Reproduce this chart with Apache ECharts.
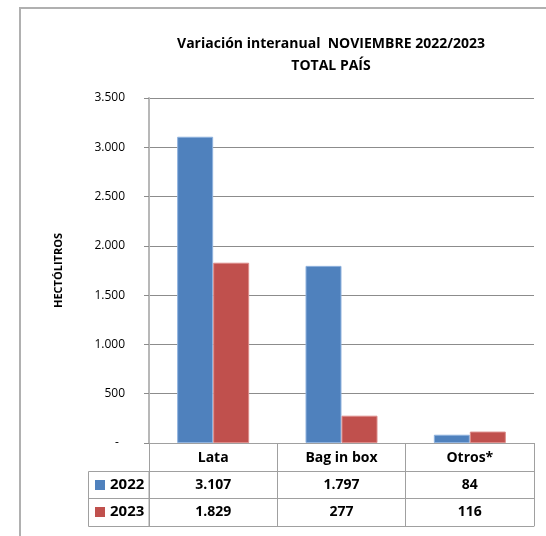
<!DOCTYPE html>
<html>
<head>
<meta charset="utf-8">
<script src="https://cdn.jsdelivr.net/npm/echarts@6/dist/echarts.min.js"></script>
<style>
    html, body { margin: 0; padding: 0; background: #fff; }
    #chart { width: 546px; height: 536px; }
</style>
</head>
<body>
<div id="chart"></div>
<script>
// datos
const categories = ['Lata', 'Bag in box', 'Otros*'];
const years = ['2022', '2023'];
const values2022 = [3107, 1797, 84];
const values2023 = [1829, 277, 116];
const yMax = 3500;
const yStep = 500;

const lineGray = '#a0a0a0';
const gridGray = '#8c8c8c';
const font = 'Open Sans';

// miles con punto: 3107 -> 3.107
function fmt(n) {
    return String(n).replace(/\B(?=(\d{3})+(?!\d))/g, '.');
}

const chart = echarts.init(document.getElementById('chart'));

const rowLabel = {
    fontFamily: font,
    fontWeight: 'bold',
    fontSize: 14,
    lineHeight: 16,
    color: '#000'
};

const options = {
    animation: false,
    backgroundColor: '#fff',
    textStyle: { fontFamily: font },
    title: {
        text: 'Variación interanual  NOVIEMBRE 2022/2023\nTOTAL PAÍS',
        left: 326,
        top: 28,
        textAlign: 'center',
        textStyle: {
            fontFamily: font,
            fontWeight: 'bold',
            fontSize: 14,
            lineHeight: 22,
            color: '#000'
        }
    },
    legend: {
        data: years,
        orient: 'vertical',
        left: 95,
        top: 477,
        padding: 0,
        itemWidth: 10,
        itemHeight: 10,
        itemGap: 11,
        icon: 'rect',
        itemStyle: { borderWidth: 0 },
        textStyle: Object.assign({}, rowLabel, { fontSize: 15 })
    },
    grid: {
        left: 149,
        right: 12,
        top: 98,
        bottom: 93
    },
    xAxis: [
        {
            type: 'category',
            position: 'bottom',
            data: categories,
            axisLine: { lineStyle: { color: lineGray, width: 1 } },
            axisTick: { show: true, length: 83, lineStyle: { color: lineGray } },
            axisLabel: Object.assign({ margin: 7 }, rowLabel)
        },
        {
            type: 'category',
            position: 'bottom',
            data: categories,
            offset: 28,
            axisLine: { lineStyle: { color: lineGray } },
            axisTick: { show: false },
            axisLabel: Object.assign({
                margin: 6,
                formatter: (v, i) => fmt(values2022[i])
            }, rowLabel)
        },
        {
            type: 'category',
            position: 'bottom',
            data: categories,
            offset: 55,
            axisLine: { lineStyle: { color: lineGray } },
            axisTick: { show: false },
            axisLabel: Object.assign({
                margin: 6,
                formatter: (v, i) => fmt(values2023[i])
            }, rowLabel)
        },
        {
            type: 'category',
            position: 'bottom',
            data: categories,
            offset: 83,
            axisLine: { lineStyle: { color: lineGray } },
            axisTick: { show: false },
            axisLabel: { show: false }
        }
    ],
    yAxis: {
        type: 'value',
        min: 0,
        max: yMax,
        interval: yStep,
        name: 'HECTÓLITROS',
        nameLocation: 'middle',
        nameRotate: 90,
        nameGap: 85,
        nameTextStyle: {
            fontFamily: font,
            fontWeight: 'bold',
            fontSize: 11,
            color: '#000'
        },
        axisLine: { show: true, lineStyle: { color: '#b8b8b8', width: 2 } },
        axisTick: { show: true, length: 5, lineStyle: { color: gridGray } },
        splitLine: { lineStyle: { color: gridGray } },
        axisLabel: {
            margin: 24,
            fontFamily: font,
            fontSize: 12,
            color: '#000',
            formatter: v => v === 0 ? '-  ' : fmt(v)
        }
    },
    series: [
        {
            name: years[0],
            type: 'bar',
            barWidth: 36,
            barGap: '0%',
            itemStyle: { color: '#4f81bd', borderColor: '#8fb2de', borderWidth: 1 },
            data: values2022
        },
        {
            name: years[1],
            type: 'bar',
            barWidth: 36,
            itemStyle: { color: '#c0504d', borderColor: '#dc8c8a', borderWidth: 1 },
            data: values2023
        }
    ],
    graphic: [
        // marco exterior
        {
            type: 'rect',
            shape: { x: 20, y: 8, width: 600, height: 600 },
            style: { fill: 'none', stroke: '#b0b0b0', lineWidth: 2 }
        },
        // celda de leyenda de la tabla
        {
            type: 'rect',
            shape: { x: 88.5, y: 471.5, width: 60.5, height: 55 },
            style: { fill: 'none', stroke: lineGray, lineWidth: 1 }
        },
        {
            type: 'line',
            shape: { x1: 88.5, y1: 498.5, x2: 149, y2: 498.5 },
            style: { stroke: lineGray, lineWidth: 1 }
        }
    ]
};

chart.setOption(options);
</script>
</body>
</html>
